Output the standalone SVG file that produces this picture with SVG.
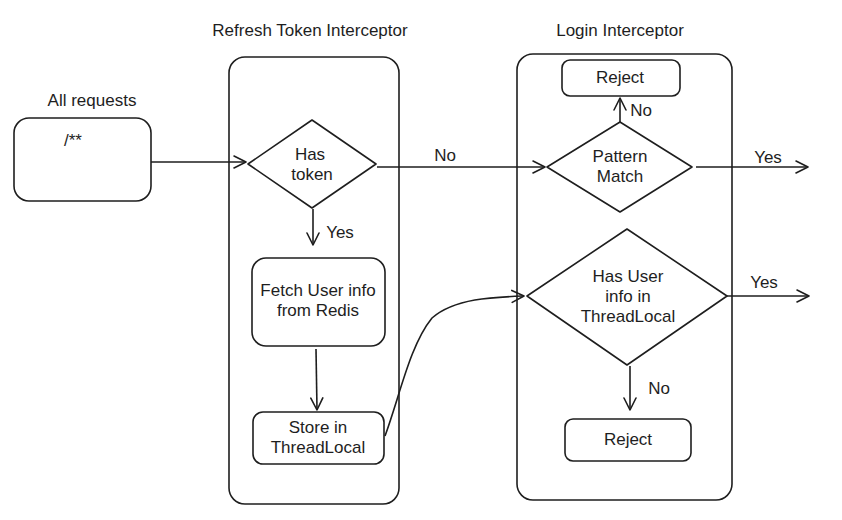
<svg xmlns="http://www.w3.org/2000/svg" width="842" height="520" viewBox="0 0 842 520">
<defs>
<marker id="ah" markerWidth="16" markerHeight="16" refX="13" refY="8" orient="auto" markerUnits="userSpaceOnUse">
<path d="M1,2 L13,8 L1,14" fill="none" stroke="#1e1e1e" stroke-width="1.6" stroke-linecap="round" stroke-linejoin="round"/>
</marker>
</defs>
<style>
.s{fill:#fff;stroke:#1e1e1e;stroke-width:1.6}
.c{fill:none;stroke:#1e1e1e;stroke-width:1.6}
.t{font-family:"Liberation Sans","DejaVu Sans",sans-serif;font-size:17px;fill:#1e1e1e;text-anchor:middle;dominant-baseline:middle}
.e{fill:none;stroke:#1e1e1e;stroke-width:1.6;marker-end:url(#ah)}
</style>
<rect width="842" height="520" fill="#fff"/>
<g id="refresh-interceptor">
<rect class="c" x="229" y="57" width="170" height="447" rx="16"/>
<text class="t" x="310" y="32">Refresh Token Interceptor</text>
</g>
<g id="login-interceptor">
<rect class="c" x="517" y="54" width="215" height="446" rx="16"/>
<text class="t" x="620" y="32">Login Interceptor</text>
</g>
<g id="all-requests">
<rect class="s" x="14" y="118" width="137" height="83" rx="15"/>
<text class="t" x="92" y="102">All requests</text>
<text class="t" x="73" y="142">/**</text>
</g>
<g id="has-token">
<path class="s" d="M312,120 L376,164 L312,208 L248,164 Z" stroke-linejoin="round"/>
<text class="t" x="310" y="156">Has</text>
<text class="t" x="312" y="176">token</text>
</g>
<g id="fetch-user">
<rect class="s" x="252" y="258" width="133" height="88" rx="14"/>
<text class="t" x="318" y="292">Fetch User info</text>
<text class="t" x="318" y="312">from Redis</text>
</g>
<g id="store-threadlocal">
<rect class="s" x="253" y="412" width="131" height="52" rx="10"/>
<text class="t" x="318" y="429">Store in</text>
<text class="t" x="318" y="449">ThreadLocal</text>
</g>
<g id="reject-top">
<rect class="s" x="562" y="60" width="118" height="36" rx="8"/>
<text class="t" x="620" y="79">Reject</text>
</g>
<g id="pattern-match">
<path class="s" d="M620,122 L692,167 L620,212 L547,167 Z" stroke-linejoin="round"/>
<text class="t" x="620" y="158">Pattern</text>
<text class="t" x="620" y="178">Match</text>
</g>
<g id="has-user-info">
<path class="s" d="M627,229 L727,296 L627,365 L527,296 Z" stroke-linejoin="round"/>
<text class="t" x="628" y="278">Has User</text>
<text class="t" x="628" y="298">info in</text>
<text class="t" x="628" y="318">ThreadLocal</text>
</g>
<g id="reject-bottom">
<rect class="s" x="565" y="419" width="126" height="42" rx="8"/>
<text class="t" x="628" y="441">Reject</text>
</g>
<g id="connectors">
<path class="e" d="M151,162 L246,162"/>
<path class="e" d="M313,209 L313,245"/>
<text class="t" x="340" y="234">Yes</text>
<path class="e" d="M316,349 L317,410"/>
<path class="e" d="M377,167 L545,167"/>
<text class="t" x="445" y="157">No</text>
<path class="e" d="M620,122 L620,98"/>
<text class="t" x="641" y="112">No</text>
<path class="e" d="M696,167 L808,167"/>
<text class="t" x="768" y="159">Yes</text>
<path class="e" d="M385,436 C400,395 410,345 432,318 C455,298 495,297 524,296"/>
<path class="e" d="M727,296 L809,296"/>
<text class="t" x="764" y="284">Yes</text>
<path class="e" d="M630,366 L630,410"/>
<text class="t" x="659" y="390">No</text>
</g>
</svg>
